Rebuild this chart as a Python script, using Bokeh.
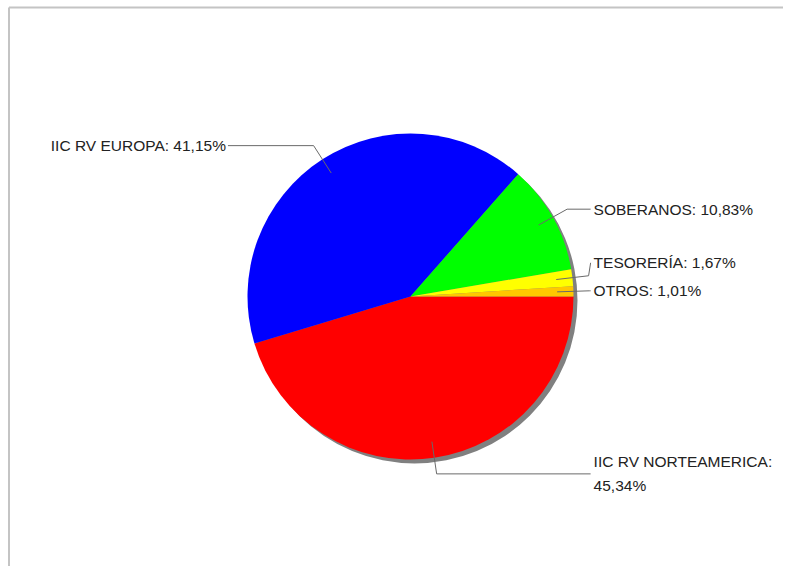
import math
from bokeh.plotting import figure
from bokeh.models import Range1d, ColumnDataSource
from bokeh.core.properties import value
from bokeh.embed import file_html
from bokeh.resources import INLINE

# ---- data ----
names = ["IIC RV NORTEAMERICA", "IIC RV EUROPA", "SOBERANOS", "TESORERÍA", "OTROS"]
values = [45.34, 41.15, 10.83, 1.67, 1.01]
colors = ["#FF0000", "#0000FF", "#00FF00", "#FFFF00", "#FFC800"]

# ---- layout ----
W, H = 783, 566
CX, CY = 410, -296      # pie centre (px, y negated)
R = 163                 # pie radius in px
SHADOW = 4
FONT = value("Liberation Sans")
FSIZE = "15.5px"
LABEL_GAP = 28
BORDER_X, BORDER_Y = 8.5, -7

p = figure(width=W, height=H, x_range=Range1d(0, W), y_range=Range1d(-H, 0),
           output_backend="svg", toolbar_location=None, x_axis_type=None, y_axis_type=None,
           title=None, min_border_left=0, min_border_top=0, min_border_right=0, min_border_bottom=0)
p.outline_line_color = None
p.border_fill_color = "white"
p.background_fill_color = "white"
p.grid.visible = False

# chart border (top and left edges visible)
p.segment(x0=[BORDER_X, BORDER_X], y0=[BORDER_Y, BORDER_Y], x1=[BORDER_X, W], y1=[-H, BORDER_Y],
          line_color="#c4c4c4", line_width=2)

total = sum(values)
starts, ends, mids = [], [], []
cum = 0.0
for v in values:
    s = -2 * math.pi * cum / total
    cum += v
    e = -2 * math.pi * cum / total
    starts.append(s); ends.append(e); mids.append((s + e) / 2)

src = ColumnDataSource(dict(start=starts, end=ends, color=colors, name=names, val=values))

# shadow
p.wedge(x=CX + SHADOW, y=CY - SHADOW, radius=R, start_angle=0, end_angle=2 * math.pi,
        fill_color="#808080", line_color=None)
# slices
p.wedge(x=CX, y=CY, radius=R, start_angle="start", end_angle="end", direction="clock",
        fill_color="color", line_color=None, source=src)

# labels
def fmt(name, v):
    t = f"{name}: {v:.2f}%".replace(".", ",")
    if len(t) > 24:
        t = f"{name}:\n{v:.2f}%".replace(".", ",")
    return t

items = []
for n, v, m in zip(names, values, mids):
    ix, iy = CX + 0.9 * R * math.cos(m), CY + 0.9 * R * math.sin(m)
    ex, ey = CX + 1.1 * R * math.cos(m), CY + 1.1 * R * math.sin(m)
    right = math.cos(m) >= 0
    items.append(dict(text=fmt(n, v), ix=ix, iy=iy, ex=ex, ey=ey, right=right, ly=ey))

# resolve overlaps per side
for side in (True, False):
    grp = sorted([it for it in items if it["right"] == side], key=lambda d: d["ey"])
    for a, b in zip(grp, grp[1:]):
        if b["ly"] - a["ly"] < LABEL_GAP:
            b["ly"] = a["ly"] + LABEL_GAP

xs, ys = [], []
tx, ty, tt, ta = [], [], [], []
for it in items:
    ax = CX + 1.105 * R if it["right"] else CX - 1.12 * R
    xs.append([it["ix"], it["ex"], ax])
    ys.append([it["iy"], it["ey"], it["ly"]])
    tx.append(ax + 3 if it["right"] else ax - 2)
    ty.append(it["ly"])
    tt.append(it["text"])
    ta.append("left" if it["right"] else "right")

p.multi_line(xs=xs, ys=ys, line_color="#6a6a6a", line_width=1)
p.text(x=tx, y=ty, text=tt, text_align=ta, text_baseline="middle", text_font=FONT,
       text_font_size=FSIZE, text_color="#222222", text_line_height=1.42)

open("out.html", "w").write(file_html(p, INLINE))
